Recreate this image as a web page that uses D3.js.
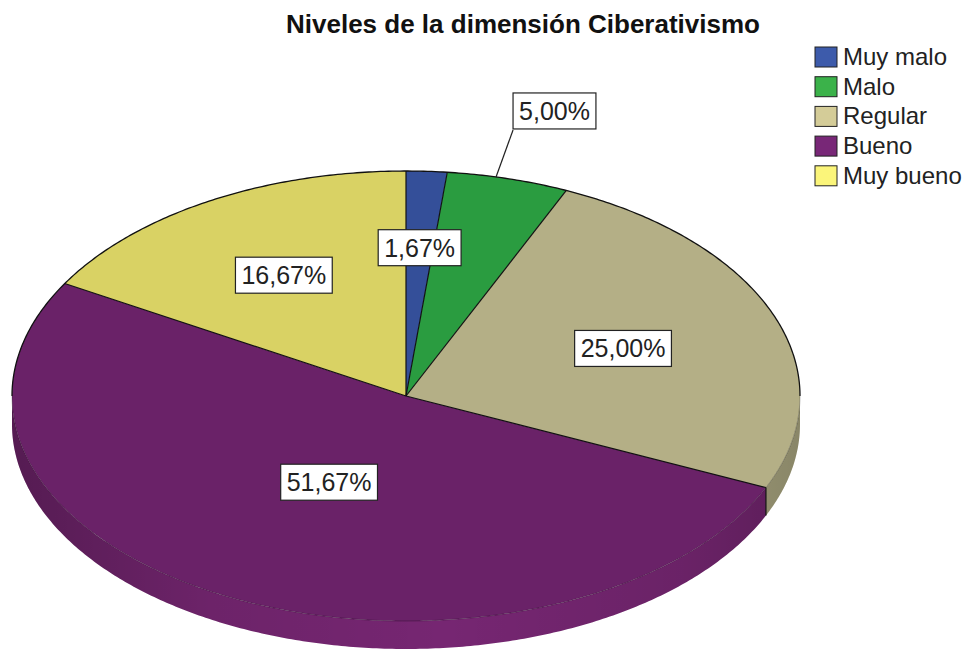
<!DOCTYPE html>
<html>
<head>
<meta charset="utf-8">
<script src="https://cdn.jsdelivr.net/npm/d3@7"></script>
<style>
  body { margin: 0; background: #fff; }
  svg { font-family: "Liberation Sans", Arial, sans-serif; }
</style>
</head>
<body>
<svg id="chart" width="969" height="649"></svg>
<script>
// data
var categories = ["Muy malo", "Malo", "Regular", "Bueno", "Muy bueno"];
var percents = [1.67, 5.00, 25.00, 51.67, 16.67];
var labels = ["1,67%", "5,00%", "25,00%", "51,67%", "16,67%"];

var title = "Niveles de la dimensión Ciberativismo";

// colours (legend = base colour, top face is a bit darker)
var legendColors = ["#3d5bab", "#3bb24a", "#d4cc98", "#782777", "#fbf57a"];
var topColors = ["#344f99", "#2a9c40", "#b4af86", "#6a2268", "#d9d264"];
var sideColors = ["#344f99", "#2a9c40", "#b0ac85", "#762672", "#d9d264"];

// where the labels go (fraction of the radius), 5% goes outside with a leader
var labelRadius = [0.66, 1, 0.59, 0.43, 0.62];
var labelOutside = [false, true, false, false, false];

var dims = {
    width: 969,
    height: 649,
    cx: 406,
    cy: 396,
    rx: 394,
    ry: 225,
    depth: 28
};

var svg = d3.select("#chart");

var pie = d3.pie().sort(null).value(d => d)
    .startAngle(0).endAngle(2 * Math.PI);
var arcs = pie(percents);

function pt(a, f, dy) {
    f = f === undefined ? 1 : f;
    dy = dy || 0;
    return [dims.cx + dims.rx * f * Math.sin(a), dims.cy - dims.ry * f * Math.cos(a) + dy];
}

function sample(a0, a1, dy) {
    var n = Math.max(2, Math.ceil(Math.abs(a1 - a0) / 0.01));
    var pts = [];
    for (var i = 0; i <= n; i++) {
        pts.push(pt(a0 + (a1 - a0) * i / n, 1, dy));
    }
    return pts;
}

var line = d3.line();

// gradient for the side wall (darker towards the left and right ends)
var defs = svg.append("defs");
var grad = defs.append("linearGradient")
    .attr("id", "sideShade")
    .attr("gradientUnits", "userSpaceOnUse")
    .attr("x1", dims.cx - dims.rx).attr("x2", dims.cx + dims.rx)
    .attr("y1", 0).attr("y2", 0);
grad.append("stop").attr("offset", "0").attr("stop-color", "#000").attr("stop-opacity", 0.28);
grad.append("stop").attr("offset", "0.25").attr("stop-color", "#000").attr("stop-opacity", 0.08);
grad.append("stop").attr("offset", "0.55").attr("stop-color", "#000").attr("stop-opacity", 0);
grad.append("stop").attr("offset", "0.85").attr("stop-color", "#000").attr("stop-opacity", 0.1);
grad.append("stop").attr("offset", "1").attr("stop-color", "#000").attr("stop-opacity", 0.22);

// side wall: only the front half (angles between pi/2 and 3pi/2)
var sideG = svg.append("g");
arcs.forEach((d, i) => {
    var s0 = Math.max(d.startAngle, Math.PI / 2);
    var s1 = Math.min(d.endAngle, 3 * Math.PI / 2);
    if (s1 <= s0) return;
    var pts = sample(s0, s1, 0).concat(sample(s1, s0, dims.depth));
    sideG.append("path")
        .attr("d", line(pts) + "Z")
        .attr("fill", sideColors[i]);
    sideG.append("path")
        .attr("d", line(pts) + "Z")
        .attr("fill", "url(#sideShade)");
    // edge between two slices on the wall
    if (d.startAngle > Math.PI / 2 && d.startAngle < 3 * Math.PI / 2) {
        var p0 = pt(d.startAngle), p1 = pt(d.startAngle, 1, dims.depth);
        sideG.append("line")
            .attr("x1", p0[0]).attr("y1", p0[1])
            .attr("x2", p1[0]).attr("y2", p1[1])
            .attr("stroke", "#111").attr("stroke-width", 1.2);
    }
});

// top face
var topG = svg.append("g");
arcs.forEach((d, i) => {
    var pts = [[dims.cx, dims.cy]].concat(sample(d.startAngle, d.endAngle, 0));
    topG.append("path")
        .attr("d", line(pts) + "Z")
        .attr("fill", topColors[i])
        .attr("stroke", "none");
});
// slice edges
arcs.forEach((d, i) => {
    var p = pt(d.startAngle);
    topG.append("line")
        .attr("x1", dims.cx).attr("y1", dims.cy)
        .attr("x2", p[0]).attr("y2", p[1])
        .attr("stroke", "#111").attr("stroke-width", 1.2);
});
// back rim (solid) and front rim (faint)
topG.append("path")
    .attr("d", line(sample(-Math.PI / 2, Math.PI / 2, 0)))
    .attr("fill", "none").attr("stroke", "#111").attr("stroke-width", 1.3);
topG.append("path")
    .attr("d", line(sample(Math.PI / 2, 3 * Math.PI / 2, 0)))
    .attr("fill", "none").attr("stroke", "#000").attr("stroke-opacity", 0.25).attr("stroke-width", 1);

// labels
var labelG = svg.append("g");
arcs.forEach((d, i) => {
    var mid = (d.startAngle + d.endAngle) / 2;
    var g = labelG.append("g");
    var text = g.append("text")
        .attr("font-size", 25)
        .attr("fill", "#222")
        .attr("text-anchor", "middle")
        .attr("dominant-baseline", "central")
        .text(labels[i]);
    var c;
    if (labelOutside[i]) {
        // leader leaves the rim a bit before the middle of the slice
        var p0 = pt(d.startAngle + 0.4 * (d.endAngle - d.startAngle));
        var p1 = [p0[0] + 17, p0[1] - 47];
        labelG.insert("line", ":first-child")
            .attr("x1", p0[0]).attr("y1", p0[1])
            .attr("x2", p1[0]).attr("y2", p1[1])
            .attr("stroke", "#222").attr("stroke-width", 1.2);
        var bb0 = text.node().getBBox();
        c = [p1[0] + bb0.width / 2 + 6, p1[1] - 19];
    } else {
        c = pt(mid, labelRadius[i]);
    }
    text.attr("x", c[0]).attr("y", c[1]);
    var bb = text.node().getBBox();
    g.insert("rect", "text")
        .attr("x", bb.x - 6)
        .attr("y", c[1] - 18)
        .attr("width", bb.width + 12)
        .attr("height", 36)
        .attr("fill", "#fff")
        .attr("stroke", "#222")
        .attr("stroke-width", 1.2);
});

// title
svg.append("text")
    .attr("x", 523)
    .attr("y", 33)
    .attr("text-anchor", "middle")
    .attr("font-size", 26)
    .attr("font-weight", "bold")
    .attr("fill", "#111")
    .text(title);

// legend
var legend = svg.selectAll(".legend")
    .data(categories)
    .enter()
    .append("g")
    .attr("class", "legend")
    .attr("transform", (d, i) => `translate(815, ${47 + i * 29.7})`);

legend.append("rect")
    .attr("width", 22)
    .attr("height", 20)
    .attr("fill", (d, i) => legendColors[i])
    .attr("stroke", "#222")
    .attr("stroke-width", 1);

legend.append("text")
    .attr("x", 28)
    .attr("y", 18)
    .attr("font-size", 24)
    .attr("fill", "#222")
    .text(d => d);
</script>
</body>
</html>
